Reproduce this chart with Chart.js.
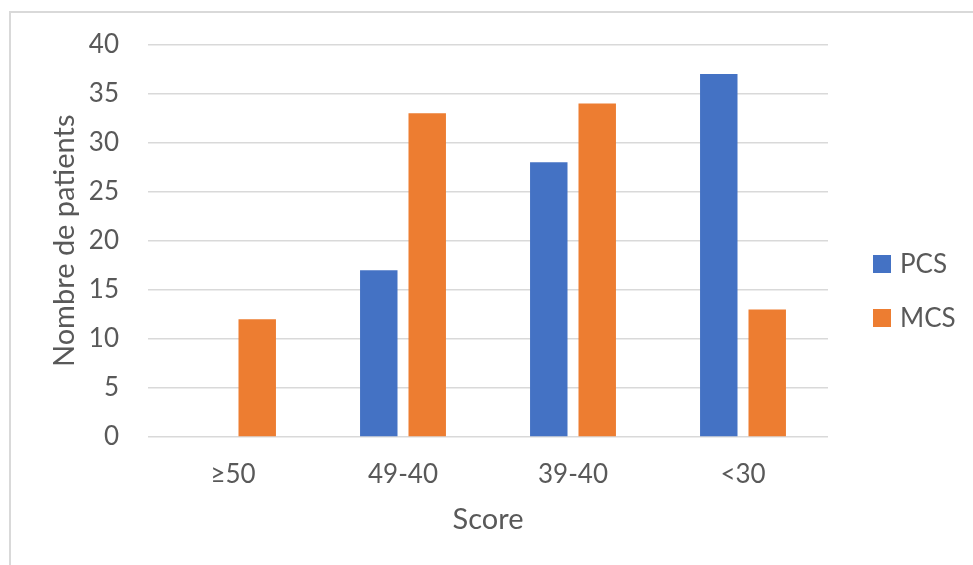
<!DOCTYPE html>
<html>
<head>
<meta charset="utf-8">
<script src="https://cdn.jsdelivr.net/npm/chart.js@4.4.1/dist/chart.umd.min.js"></script>
<style>
  html, body { margin: 0; padding: 0; background: #ffffff; }
  #wrap { position: relative; width: 973px; height: 565px; overflow: hidden; }
  #frame { position: absolute; left: 9px; top: 11px; width: 1000px; height: 600px;
           border-left: 2px solid #d9d9d9; border-top: 2px solid #d9d9d9; box-sizing: border-box; }
  canvas { position: absolute; left: 0; top: 0; }
</style>
</head>
<body>
<div id="wrap">
  <div id="frame"></div>
  <canvas id="c" width="973" height="565"></canvas>
</div>
<script>
const categories = ['≥50', '49-40', '39-40', '<30'];
const pcsValues = [0, 17, 28, 37];
const mcsValues = [12, 33, 34, 13];
const seriesNames = ['PCS', 'MCS'];
const seriesColors = ['#4472C4', '#ED7D31'];
const yTitle = 'Nombre de patients';
const xTitle = 'Score';

const FONT = 'Lato, Calibri, Carlito, sans-serif';
const TXT = '#595959';

const legendPlugin = {
  id: 'sideLegend',
  afterDraw(chart) {
    const ctx = chart.ctx;
    ctx.save();
    ctx.font = '26px ' + FONT;
    ctx.textBaseline = 'middle';
    ctx.textAlign = 'left';
    const ys = [264, 318];
    chart.data.datasets.forEach((ds, i) => {
      ctx.fillStyle = ds.backgroundColor;
      ctx.fillRect(873, ys[i] - 9, 18, 18);
      ctx.fillStyle = TXT;
      ctx.fillText(ds.label, 900, ys[i] + 1);
    });
    ctx.restore();
  }
};

new Chart(document.getElementById('c'), {
  type: 'bar',
  data: {
    labels: categories,
    datasets: [
      { label: seriesNames[0], data: pcsValues, backgroundColor: seriesColors[0] },
      { label: seriesNames[1], data: mcsValues, backgroundColor: seriesColors[1] }
    ]
  },
  options: {
    responsive: false,
    animation: false,
    devicePixelRatio: 1,
    categoryPercentage: 0.57,
    barPercentage: 0.773,
    layout: { padding: { left: 0, right: 145, top: 41, bottom: 0 } },
    plugins: { legend: { display: false }, tooltip: { enabled: false } },
    scales: {
      x: {
        grid: { display: false, drawTicks: false },
        border: { display: false },
        ticks: { color: TXT, font: { family: FONT, size: 26 }, padding: 22 },
        title: { display: true, text: xTitle, color: TXT, font: { family: FONT, size: 29 }, padding: { top: 0, bottom: 28 } },
        afterFit(s) { s.height = 128; }
      },
      y: {
        min: 0, max: 40,
        ticks: { stepSize: 5, color: TXT, font: { family: FONT, size: 26 }, padding: 29 },
        grid: { color: '#d9d9d9', lineWidth: 1.5, drawTicks: false },
        border: { display: false },
        title: { display: true, text: yTitle, color: TXT, font: { family: FONT, size: 29 }, padding: { top: 47, bottom: 0 } },
        afterFit(s) { s.width = 148; }
      }
    }
  },
  plugins: [legendPlugin]
});
</script>
</body>
</html>
